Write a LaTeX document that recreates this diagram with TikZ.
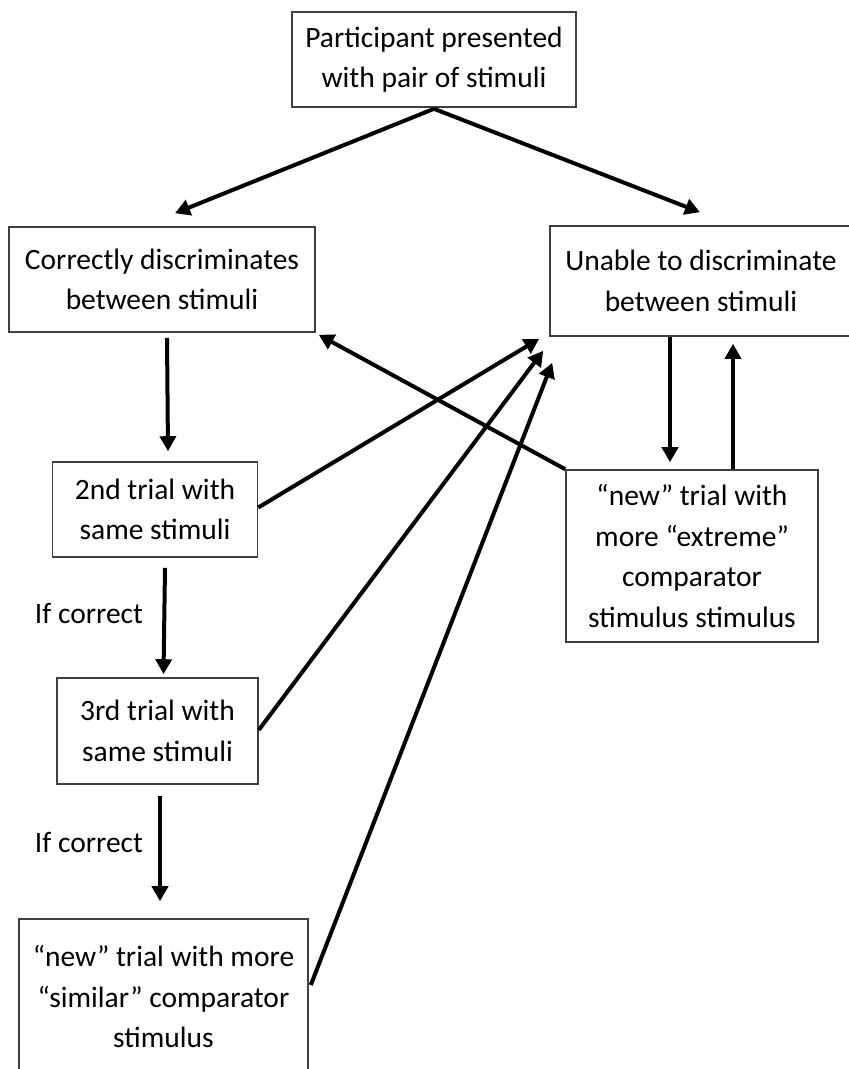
\documentclass[tikz,border=0pt]{standalone}
\usepackage{fontspec}
\setmainfont{Carlito}
\usetikzlibrary{arrows.meta,positioning,calc}
\tikzset{
  box/.style   ={rectangle, draw=black!75, line width=1.6pt, align=center,
                 font=\fontsize{29.5}{40.5}\selectfont, inner sep=0pt},
  arr/.style   ={-{Triangle[length=15pt,width=16pt]}, line width=4pt},
  lbl/.style   ={font=\fontsize{29.5}{34}\selectfont, inner sep=0pt},
}
\begin{document}
\begin{tikzpicture}[x=1pt,y=-1pt]
    \path[use as bounding box, clip] (0,0) rectangle (849,1069);

    % top of the tree
    \node[box, minimum width=284, minimum height=95] (start) at (434,59.5)
        {Participant presented\\with pair of stimuli};

    % two outcomes
    \node[box, minimum width=306, minimum height=105] (correct) at (162,279.5)
        {Correctly discriminates\\between stimuli};
    \node[box, minimum width=302, minimum height=110] (unable) at (701,281)
        {Unable to discriminate\\between stimuli};

    % left column of trials
    \node[box, minimum width=205, minimum height=95] (second) at (155,509.5)
        {2nd trial with\\same stimuli};
    \node[box, minimum width=201, minimum height=106] (third) at (157.5,731)
        {3rd trial with\\same stimuli};
    \node[box, minimum width=289, minimum height=160] (similar) at (163.5,999)
        {\raisebox{10pt}{\begin{tabular}{@{}c@{}}``new'' trial with more\\``similar'' comparator\\stimulus\end{tabular}}};

    % right column
    \node[box, minimum width=252, minimum height=172] (extreme) at (692,556)
        {``new'' trial with\\more ``extreme''\\comparator\\stimulus stimulus};

    % labels
    \node[lbl] (ifa) at (89,613) {If correct};
    \node[lbl] (ifb) at (89,842) {If correct};

    % from the start
    \draw[arr] ([yshift=-1pt]start.south) -- ([xshift=13pt,yshift=13pt]correct.north);
    \draw[arr] ([yshift=-1pt]start.south) -- ([xshift=-1pt,yshift=13pt]unable.north);

    % left chain
    \draw[arr] ([xshift=5pt,yshift=-5pt]correct.south) -- ([xshift=13pt,yshift=10pt]second.north);
    \draw[arr] ([xshift=10pt,yshift=-10pt]second.south) -- ([xshift=6pt,yshift=3pt]third.north);
    \draw[arr] ([xshift=2.5pt,yshift=-11pt]third.south) -- ([xshift=-3.5pt,yshift=17pt]similar.north);

    % back to unable
    \draw[arr] ([yshift=2pt]second.east) -- ([xshift=-10pt,yshift=-2pt]unable.south west);
    \draw[arr] ([yshift=1pt]third.east) -- ([xshift=-6pt,yshift=-14pt]unable.south west);
    \draw[arr] ([xshift=2pt,yshift=14pt]similar.east) -- ([xshift=3pt,yshift=-26pt]unable.south west);

    % extreme loop
    \draw[arr] (extreme.north west) -- ([xshift=3pt,yshift=-2pt]correct.south east);
    \draw[arr] ([xshift=-31pt]unable.south) -- ([xshift=-22pt,yshift=7pt]extreme.north);
    \draw[arr] ([xshift=41pt]extreme.north) -- ([xshift=32pt,yshift=-7pt]unable.south);
\end{tikzpicture}
\end{document}
